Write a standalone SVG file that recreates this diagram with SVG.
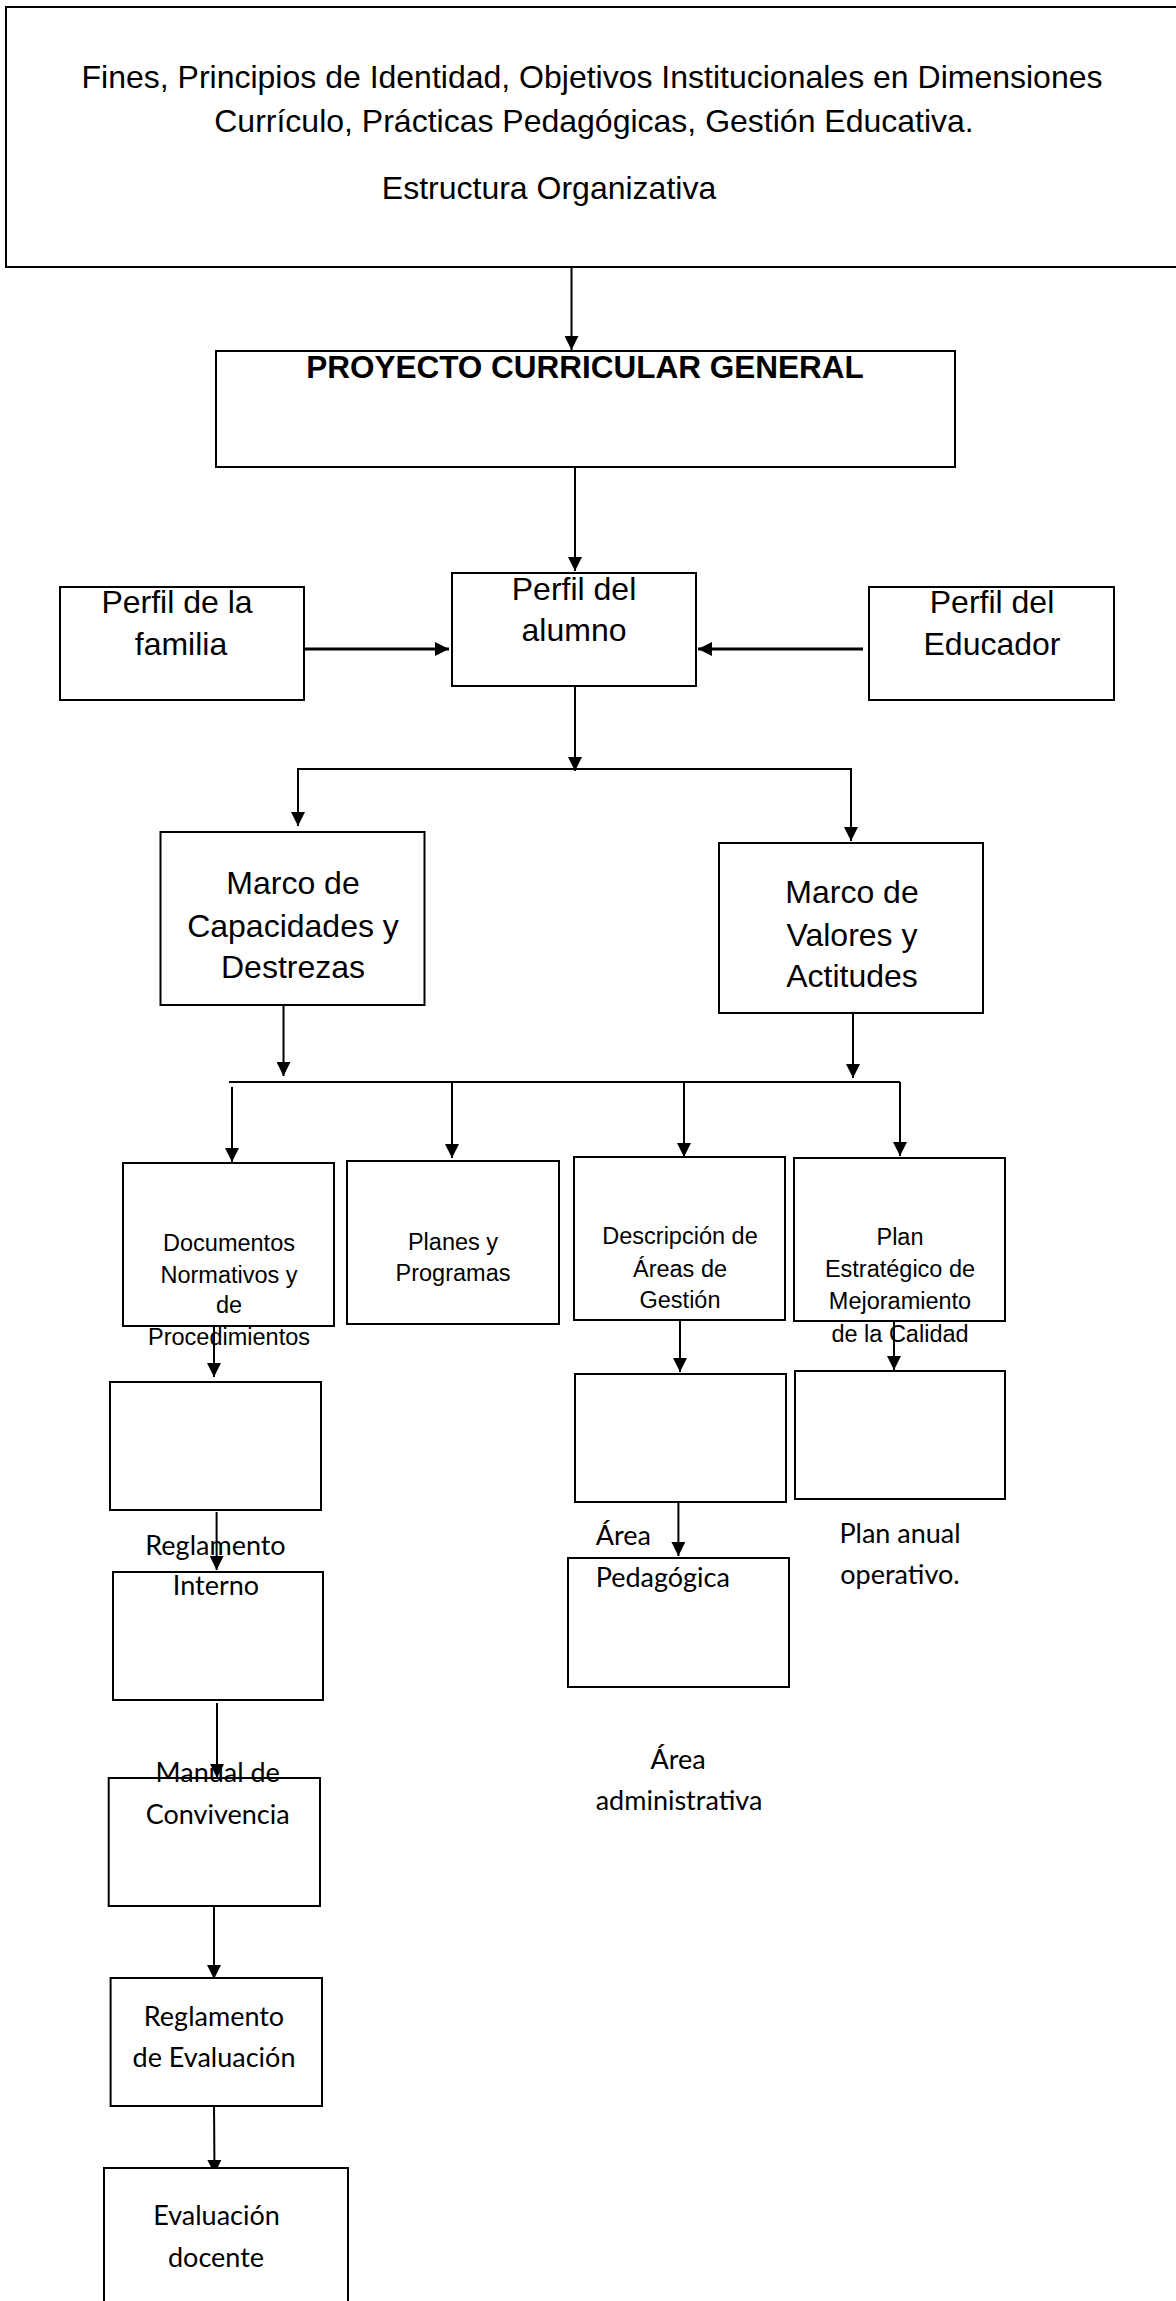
<svg xmlns="http://www.w3.org/2000/svg" width="1176" height="2301" viewBox="0 0 1176 2301">
<style>
.box{fill:#fff;stroke:#000;stroke-width:2}
.ln{fill:none;stroke:#000;stroke-width:2}
.thick{fill:none;stroke:#000;stroke-width:3}
.a{font-family:"Liberation Sans",Arial,sans-serif;font-size:32px;fill:#000;text-anchor:middle}
.b{font-family:"Liberation Sans",Arial,sans-serif;font-size:31.5px;font-weight:bold;fill:#000;text-anchor:middle}
.s{font-family:"Liberation Sans",Arial,sans-serif;font-size:23.5px;fill:#000;text-anchor:middle}
.c{font-family:Lato,"Open Sans",sans-serif;font-size:27px;fill:#000;text-anchor:middle}
.cl{font-family:Lato,"Open Sans",sans-serif;font-size:27px;fill:#000;text-anchor:start}
</style>
<defs>
<marker id="ah" markerUnits="userSpaceOnUse" markerWidth="14" markerHeight="14" refX="14" refY="7" orient="auto">
<path d="M0,0 L14,7 L0,14 z" fill="#000"/>
</marker>
</defs>
<rect width="1176" height="2301" fill="#fff"/>

<g id="connectors">
<line class="ln" x1="571.5" y1="267" x2="571.5" y2="350" marker-end="url(#ah)"/>
<line class="ln" x1="575" y1="463" x2="575" y2="571" marker-end="url(#ah)"/>
<line class="thick" x1="302" y1="649" x2="449" y2="649" marker-end="url(#ah)"/>
<line class="thick" x1="863" y1="649" x2="698" y2="649" marker-end="url(#ah)"/>
<line class="ln" x1="575" y1="683" x2="575" y2="771" marker-end="url(#ah)"/>
<line class="ln" x1="297" y1="769" x2="852" y2="769"/>
<line class="ln" x1="298" y1="769" x2="298" y2="826" marker-end="url(#ah)"/>
<line class="ln" x1="851" y1="769" x2="851" y2="841" marker-end="url(#ah)"/>
<line class="ln" x1="283.5" y1="1002" x2="283.5" y2="1076" marker-end="url(#ah)"/>
<line class="ln" x1="853" y1="1010" x2="853" y2="1078" marker-end="url(#ah)"/>
<line class="ln" x1="229" y1="1082" x2="900" y2="1082"/>
<line class="ln" x1="232" y1="1087" x2="232" y2="1162" marker-end="url(#ah)"/>
<line class="ln" x1="452" y1="1082" x2="452" y2="1158" marker-end="url(#ah)"/>
<line class="ln" x1="684" y1="1082" x2="684" y2="1157" marker-end="url(#ah)"/>
<line class="ln" x1="900" y1="1082" x2="900" y2="1156" marker-end="url(#ah)"/>
<line class="ln" x1="214" y1="1326" x2="214" y2="1377" marker-end="url(#ah)"/>
<line class="ln" x1="680" y1="1320" x2="680" y2="1372" marker-end="url(#ah)"/>
<line class="ln" x1="894" y1="1318" x2="894" y2="1370" marker-end="url(#ah)"/>
<line class="ln" x1="216.6" y1="1512" x2="216.6" y2="1570" marker-end="url(#ah)"/>
<line class="ln" x1="217" y1="1703" x2="217" y2="1778" marker-end="url(#ah)"/>
<line class="ln" x1="214" y1="1906" x2="214" y2="1979" marker-end="url(#ah)"/>
<line class="ln" x1="214" y1="2103" x2="214.5" y2="2174" marker-end="url(#ah)"/>
<line class="ln" x1="678.4" y1="1502" x2="678.4" y2="1556" marker-end="url(#ah)"/>
</g>

<g id="n-top">
<rect class="box" x="6" y="7" width="1200" height="260"/>
<text class="a" x="592" y="88">Fines, Principios de Identidad, Objetivos Institucionales en Dimensiones</text>
<text class="a" x="594" y="132">Currículo, Prácticas Pedagógicas, Gestión Educativa.</text>
<text class="a" x="549" y="199">Estructura Organizativa</text>
</g>

<g id="n-pcg">
<rect class="box" x="216" y="351" width="739" height="116"/>
<text class="b" x="585" y="378">PROYECTO CURRICULAR GENERAL</text>
</g>

<g id="n-alumno">
<rect class="box" x="452" y="573" width="244" height="113"/>
<text class="a" x="574" y="600">Perfil del</text>
<text class="a" x="574" y="641">alumno</text>
</g>

<g id="n-familia">
<rect class="box" x="60" y="587" width="244" height="113"/>
<text class="a" x="177" y="613">Perfil de la</text>
<text class="a" x="181" y="655">familia</text>
</g>

<g id="n-educador">
<rect class="box" x="869" y="587" width="245" height="113"/>
<text class="a" x="992" y="613">Perfil del</text>
<text class="a" x="992" y="655">Educador</text>
</g>

<g id="n-capacidades">
<rect class="box" x="160.5" y="832" width="264" height="173"/>
<text class="a" x="293" y="894">Marco de</text>
<text class="a" x="293" y="937">Capacidades y</text>
<text class="a" x="293" y="978">Destrezas</text>
</g>

<g id="n-valores">
<rect class="box" x="719" y="843" width="264" height="170"/>
<text class="a" x="852" y="903">Marco de</text>
<text class="a" x="852" y="946">Valores y</text>
<text class="a" x="852" y="987">Actitudes</text>
</g>

<g id="n-documentos">
<rect class="box" x="123" y="1163" width="211" height="163"/>
<text class="s" x="229" y="1251">Documentos</text>
<text class="s" x="229" y="1283">Normativos y</text>
<text class="s" x="229" y="1313">de</text>
<text class="s" x="229" y="1345">Procedimientos</text>
</g>

<g id="n-planes">
<rect class="box" x="347" y="1161" width="212" height="163"/>
<text class="s" x="453" y="1250">Planes y</text>
<text class="s" x="453" y="1281">Programas</text>
</g>

<g id="n-descripcion">
<rect class="box" x="574" y="1157" width="211" height="163"/>
<text class="s" x="680" y="1244">Descripción de</text>
<text class="s" x="680" y="1277">Áreas de</text>
<text class="s" x="680" y="1308">Gestión</text>
</g>

<g id="n-estrategico">
<rect class="box" x="794" y="1158" width="211" height="163"/>
<text class="s" x="900" y="1245">Plan</text>
<text class="s" x="900" y="1277">Estratégico de</text>
<text class="s" x="900" y="1309">Mejoramiento</text>
<text class="s" x="900" y="1342">de la Calidad</text>
</g>

<g id="n-blank-doc">
<rect class="box" x="110" y="1382" width="211" height="128"/>
</g>

<g id="n-blank-desc">
<rect class="box" x="575" y="1374" width="211" height="128"/>
</g>

<g id="n-blank-plan">
<rect class="box" x="795" y="1371" width="210" height="128"/>
<text class="c" x="900" y="1543">Plan anual</text>
<text class="c" x="900" y="1584">operativo.</text>
</g>

<g id="n-reglamento-interno">
<rect class="box" x="113" y="1572" width="210" height="128"/>
<text class="c" x="215.5" y="1555">Reglamento</text>
<text class="c" x="216" y="1595">Interno</text>
</g>

<g id="n-manual">
<rect class="box" x="108.7" y="1778" width="211.3" height="128"/>
<text class="c" x="217.7" y="1782">Manual de</text>
<text class="c" x="217.7" y="1824">Convivencia</text>
</g>

<g id="n-reglamento-eval">
<rect class="box" x="110.6" y="1978" width="211.4" height="128"/>
<text class="c" x="214" y="2026">Reglamento</text>
<text class="c" x="214" y="2067">de Evaluación</text>
</g>

<g id="n-evaluacion-docente">
<rect class="box" x="104" y="2168" width="244" height="160"/>
<text class="c" x="216.5" y="2225">Evaluación</text>
<text class="c" x="216" y="2267">docente</text>
</g>

<g id="n-area-pedagogica">
<rect class="box" x="568" y="1558" width="221" height="129"/>
<text class="cl" x="595.7" y="1545">Área</text>
<text class="cl" x="595.7" y="1587">Pedagógica</text>
</g>

<g id="n-area-administrativa">
<text class="c" x="678" y="1769">Área</text>
<text class="c" x="679" y="1810">administrativa</text>
</g>
</svg>
